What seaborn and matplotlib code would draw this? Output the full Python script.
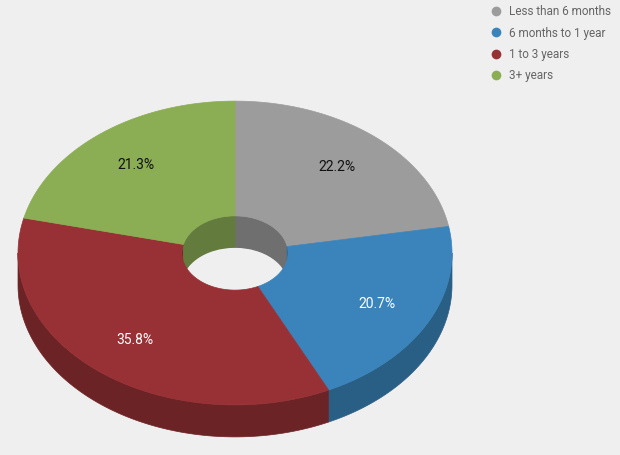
import numpy as np
import matplotlib
matplotlib.use("Agg")
import matplotlib.pyplot as plt
from matplotlib.lines import Line2D
from matplotlib.patches import Ellipse
import seaborn as sns

# ------------------------------------------
# Data
# ------------------------------------------
labels = ["Less than 6 months", "6 months to 1 year", "1 to 3 years", "3+ years"]
shares = [22.2, 20.7, 35.8, 21.3]
colors = ["#9c9c9c", "#3a84bb", "#983135", "#8bad54"]
text_colors = ["#111111", "#ffffff", "#ffffff", "#111111"]

# ------------------------------------------
# Layout (pixels, y grows downward)
# ------------------------------------------
bg = "#efefef"
cx, cy = 235, 253
R, r = 217, 53
k = 0.70
depth = 32
shade = 0.71

sns.set_style("white")
plt.rcParams["font.family"] = ["Roboto", "DejaVu Sans"]

fig = plt.figure(figsize=(6.2, 4.55), dpi=100, facecolor=bg)
ax = fig.add_axes([0, 0, 1, 1])
ax.set_facecolor(bg)
ax.set_xlim(0, 620)
ax.set_ylim(455, 0)
ax.axis("off")


def pt(rad, t, dy=0.0):
    t = np.radians(t)
    return cx + rad * np.cos(t), cy - rad * k * np.sin(t) + dy


def dark(c):
    rgb = np.array(matplotlib.colors.to_rgb(c))
    return tuple(rgb * shade)


def pieces(t1, t2, lo, hi):
    out = []
    for s in (-720, -360, 0, 360):
        a, b = max(t1, lo + s), min(t2, hi + s)
        if b > a:
            out.append((a, b))
    return out


# slice angles: start at top, go clockwise
total = sum(shares)
ends = 90 - np.cumsum(shares) / total * 360
starts = np.concatenate([[90], ends[:-1]])
spans = [(e, s) for s, e in zip(starts, ends)]

# outer side walls (front half)
for (t1, t2), c in zip(spans, colors):
    for a, b in pieces(t1, t2, -180, 0):
        t = np.linspace(a, b, 120)
        x1, y1 = pt(R, t)
        x2, y2 = pt(R, t[::-1], depth)
        ax.fill(np.r_[x1, x2], np.r_[y1, y2], color=dark(c), lw=0.5, ec=dark(c))

# inner walls of the hole (back half)
for (t1, t2), c in zip(spans, colors):
    for a, b in pieces(t1, t2, 0, 180):
        t = np.linspace(a, b, 80)
        x1, y1 = pt(r, t)
        x2, y2 = pt(r, t[::-1], depth)
        ax.fill(np.r_[x1, x2], np.r_[y1, y2], color=dark(c), lw=0.5, ec=dark(c))

# floor of the hole shows the background
hole = Ellipse((cx, cy), 2 * r, 2 * r * k, transform=ax.transData)
floor = Ellipse((cx, cy + depth), 2 * r, 2 * r * k, color=bg, lw=0)
ax.add_patch(floor)
floor.set_clip_path(hole)

# top faces
for (t1, t2), c in zip(spans, colors):
    t = np.linspace(t1, t2, 200)
    x1, y1 = pt(R, t)
    x2, y2 = pt(r, t[::-1])
    ax.fill(np.r_[x1, x2], np.r_[y1, y2], color=c, lw=0.5, ec=c)

# percentage labels
for (t1, t2), v, tc in zip(spans, shares, text_colors):
    x, y = pt(R * 0.735, (t1 + t2) / 2)
    ax.text(x, y, f"{v:.1f}%", ha="center", va="center", fontsize=10,
            color=tc)

# legend
handles = [Line2D([], [], marker="o", ls="", markersize=7, color=c,
                  markeredgewidth=0) for c in colors]
leg = ax.legend(handles, labels, loc="upper left",
                bbox_to_anchor=(485 / 620, 1.0), frameon=False,
                fontsize=8.5, labelcolor="#666666", handletextpad=0.55,
                labelspacing=0.7, handlelength=1.0, borderaxespad=0.05)

fig.savefig("out.png", dpi=100, facecolor=bg)
